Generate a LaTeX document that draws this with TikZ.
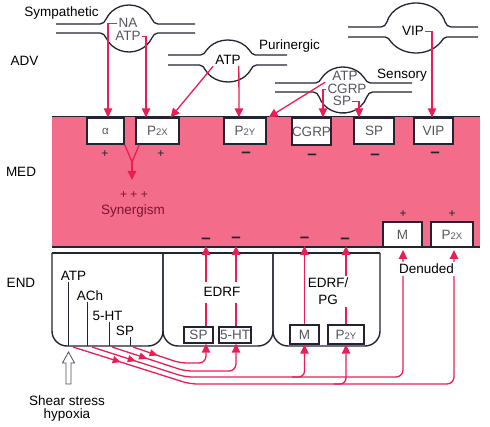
\documentclass[tikz,border=0pt]{standalone}
\usepackage{fontspec}
\setmainfont{Liberation Sans}
\usetikzlibrary{arrows.meta,decorations.markings}
\definecolor{pinkfill}{RGB}{243,108,138}
\definecolor{redc}{RGB}{234,30,84}
\definecolor{linec}{RGB}{35,35,50}
\definecolor{txtgray}{RGB}{85,85,95}
\definecolor{sync}{RGB}{125,20,55}
\newcommand{\rsub}[1]{{\fontsize{9.5}{10}\selectfont #1}}
% xl, xr, cx, yU, yL, top, bottom, x radius of the bulb
\newcommand{\nervepair}[8]{%
 \pgfmathsetmacro{\nvRy}{(#7-#6)/2}%
 \pgfmathsetmacro{\nvC}{(#7+#6)/2}%
 \pgfmathsetmacro{\nvAU}{180+asin((\nvC-#4+5)/\nvRy)}%
 \pgfmathsetmacro{\nvAL}{180-asin((#5+5-\nvC)/\nvRy)}%
 \pgfmathsetmacro{\nvK}{3/\nvRy}%
 \draw[nerve] (#1,#4) -- ({#3+#8*cos(\nvAU)-6},#4)
   .. controls ({#3+#8*cos(\nvAU)-3},#4) and ({#3+#8*cos(\nvAU)+\nvK*#8*sin(\nvAU)},{\nvC+\nvRy*sin(\nvAU)-\nvK*\nvRy*cos(\nvAU)})
   .. ({#3+#8*cos(\nvAU)},{\nvC+\nvRy*sin(\nvAU)})
   arc[start angle=\nvAU, end angle={540-\nvAU}, x radius=#8, y radius=\nvRy]
   .. controls ({#3-#8*cos(\nvAU)-\nvK*#8*sin(\nvAU)},{\nvC+\nvRy*sin(\nvAU)-\nvK*\nvRy*cos(\nvAU)}) and ({#3-#8*cos(\nvAU)+3},#4)
   .. ({#3-#8*cos(\nvAU)+6},#4) -- (#2,#4);
 \draw[nerve] (#1,#5) -- ({#3+#8*cos(\nvAL)-6},#5)
   .. controls ({#3+#8*cos(\nvAL)-3},#5) and ({#3+#8*cos(\nvAL)-\nvK*#8*sin(\nvAL)},{\nvC+\nvRy*sin(\nvAL)+\nvK*\nvRy*cos(\nvAL)})
   .. ({#3+#8*cos(\nvAL)},{\nvC+\nvRy*sin(\nvAL)})
   arc[start angle=\nvAL, end angle={180-\nvAL}, x radius=#8, y radius=\nvRy]
   .. controls ({#3-#8*cos(\nvAL)+\nvK*#8*sin(\nvAL)},{\nvC+\nvRy*sin(\nvAL)+\nvK*\nvRy*cos(\nvAL)}) and ({#3-#8*cos(\nvAL)+3},#5)
   .. ({#3-#8*cos(\nvAL)+6},#5) -- (#2,#5);
}
\begin{document}
\begin{tikzpicture}[x=1pt,y=-1pt,
  font=\fontsize{13.5}{16}\selectfont,
  every node/.style={inner sep=1pt},
  edge/.style={draw=linec,line width=1.4pt},
  nerve/.style={draw=linec,line width=1.3pt},
  rbox/.style={draw=linec,line width=1.3pt,fill=white,inner sep=0pt,text=txtgray},
  redln/.style={draw=redc,line width=1.3pt},
  redarr/.style={redln,-{Triangle[length=9pt,width=8.5pt]}},
  midarr/.style={postaction={decorate},decoration={markings,mark=at position #1 with {\arrow{Triangle[length=8pt,width=7pt,color=redc]}}}},
  minus/.style={anchor=base,inner sep=0pt,text=linec,font=\fontsize{17}{17}\selectfont\bfseries},
  plus/.style={anchor=base,inner sep=0pt,text=linec,font=\fontsize{12}{12}\selectfont},
  lbl/.style={anchor=base},
  glbl/.style={anchor=base,text=txtgray},
  thinl/.style={draw=linec,line width=0.6pt},
]
\useasboundingbox (0,0) rectangle (490,427);

% ---------- media (pink) ----------
\node[fill=pinkfill,minimum width=428,minimum height=130,inner sep=0pt] (med) at (266,182) {};
\draw[edge] (med.north west) -- (med.north east);
\draw[edge] (med.south west) -- (med.south east);

% layer labels
\node[lbl] (adv) at (24.5,66) {ADV};
\node[lbl] (medl) at (21,177) {MED};
\node[lbl] (endl) at (21,288) {END};

% receptor boxes in media
\node[rbox,minimum width=37,minimum height=26] (alpha) at (105.5,131) {{\fontsize{11.5}{12}\selectfont α}};
\node[rbox,minimum width=43,minimum height=26] (p2x) at (157.5,131) {P\rsub{2X}};
\node[rbox,minimum width=42,minimum height=26] (p2y) at (245,131) {P\rsub{2Y}};
\node[rbox,minimum width=39,minimum height=27] (cgrp) at (311.5,131.5) {CGRP};
\node[rbox,minimum width=40,minimum height=26] (sp) at (374,131) {SP};
\node[rbox,minimum width=39,minimum height=26] (vip) at (433.5,131) {VIP};
\node[rbox,minimum width=39,minimum height=25] (mden) at (402.5,234.5) {M};
\node[rbox,minimum width=42,minimum height=25] (p2xd) at (452,234.5) {P\rsub{2X}};

% signs in media
\node[plus] at (105,157.3) {+};
\node[plus] at (161,157.3) {+};
\node[minus] at (246,157.8) {–};
\node[minus] at (312,159.8) {–};
\node[minus] at (375,159.8) {–};
\node[minus] at (435,157.8) {–};
\node[plus] at (403,217.3) {+};
\node[plus] at (452,217.3) {+};
\node[minus] at (206,243.3) {–};
\node[minus] at (236,242.8) {–};
\node[minus] at (304.5,242.8) {–};
\node[minus] at (345,243.3) {–};

% synergism
\coordinate (yj) at (132,162);
\coordinate (ys) at (132,180);
\draw[redln] (alpha.south east) -- (yj);
\draw[redln] ([xshift=4pt]p2x.south west) -- (yj);
\draw[redarr] (yj) -- (ys);
\node[plus,text=sync] (ppp) at (134,198.3) {+ + +};
\node[lbl,text=sync] (syn) at (133,214.5) {Synergism};

% ---------- adventitia: nerve varicosities ----------
\nervepair{56}{195}{129}{24}{33}{5}{52}{25}
\nervepair{168}{287}{228}{55}{65}{40}{82}{25}
\nervepair{275}{412}{343}{83}{92}{67}{113}{25}
\nervepair{348}{478}{416}{27}{37}{3}{53}{30}

\node[lbl] (symp) at (61.5,17) {Sympathetic};
\node[lbl] (purin) at (289.5,50) {Purinergic};
\node[lbl] (sens) at (402,79) {Sensory};

\node[glbl] (na) at (128,28) {NA};
\node[glbl] (atpa) at (128,41) {ATP};
\node[lbl] (atpb) at (228,65) {ATP};
\node[glbl] (atpc) at (345,81) {ATP};
\node[glbl] (cgrpv) at (347,94) {CGRP};
\node[glbl] (spv) at (342,106) {SP};
\node[lbl] (vipv) at (413,36) {VIP};

\draw[redarr] (na.west) -| ([xshift=2.5pt]alpha.north);
\draw[redarr] (atpa.east) -| ([xshift=-11.5pt]p2x.north);
\draw[redarr] ([xshift=-1pt]atpb.south west) -- ([xshift=-9pt]p2x.north east);
\draw[redarr] ([xshift=-3pt]atpb.south east) -- ([xshift=-6pt]p2y.north);
\draw[redarr] ([xshift=-6pt]atpc.south west) -- ([xshift=2pt]p2y.north east);
\draw[redarr] (cgrpv.west) -| ([xshift=11.5pt]cgrp.north);
\draw[redarr] (spv.east) -| ([xshift=-15pt]sp.north);
\draw[redarr] (vipv.east) -| ([xshift=-1.5pt]vip.north);

% ---------- endothelium ----------
\draw[edge] (52,253) -- (380,253);
\draw[edge,rounded corners=15pt] (52,253) -- (52,346) -- (163,346) -- (163,253);
\draw[edge,rounded corners=15pt] (163,253) -- (163,346) -- (273,346) -- (273,253);
\draw[edge,rounded corners=15pt] (273,253) -- (273,346) -- (380,346) -- (380,253);

\node[rbox,minimum width=29,minimum height=16] (spc) at (198.5,335) {SP};
\node[rbox,minimum width=32,minimum height=16] (htc) at (235,335) {5-HT};
\node[rbox,minimum width=29,minimum height=19] (mc) at (304.5,334.5) {M};
\node[rbox,minimum width=36,minimum height=19] (p2yc) at (346,334.5) {P\rsub{2Y}};

% tips at the lower border of the media
\coordinate (u1) at (206,246);
\coordinate (u2) at (236,246);
\coordinate (u3) at (304.5,246);
\coordinate (u4) at (346,246);
\draw[redarr] ([xshift=7.5pt]spc.north) -- (u1);
\draw[redarr] ([xshift=1pt]htc.north) -- (u2);
\draw[redarr] (mc.north) -- (u3);
\draw[redarr] (p2yc.north) -- (u4);

\node[lbl,fill=white,inner xsep=2pt,inner ysep=6pt] (edrf1) at (222,297) {EDRF};
\node[fill=white,align=center,inner sep=2pt,font=\fontsize{13.5}{17}\selectfont] (edrf2) at (328,291.5) {EDRF/\\PG};

% cell 1 transmitters
\coordinate (cb) at (0,346);
\node[lbl] (catp) at (73.5,281) {ATP};
\node[lbl] (cach) at (90,301) {ACh};
\node[lbl] (cht) at (107.5,321) {5-HT};
\node[lbl] (csp) at (125,336) {SP};
\draw[thinl] ([xshift=-5.5pt]catp.south) -- ([xshift=-5.5pt]catp.south |- cb);
\draw[thinl] ([xshift=-3pt]cach.south) -- ([xshift=-3pt]cach.south |- cb);
\draw[thinl] ([xshift=1.5pt]cht.south) -- ([xshift=1.5pt]cht.south |- cb);
\draw[thinl] ([xshift=5pt]csp.south) -- ([xshift=5pt]csp.south |- cb);

% release pathways
\coordinate (r1) at (133,347);
\coordinate (r2) at (112,347);
\coordinate (r3) at (92,347);
\coordinate (r4) at (73,347);
\coordinate (dm) at (403,250);
\coordinate (dp) at (454,250);
\draw[redarr,rounded corners=7pt,midarr=26pt] (r1) -- (180,363) -- (206,363) -- ([xshift=7.5pt]spc.south);
\draw[redarr,rounded corners=7pt,midarr=37pt] (r2) -- (185,371) -- (236,371) -- ([xshift=1pt]htc.south);
\draw[redarr,rounded corners=7pt,midarr=46pt] (r3) -- (185,377) -- (403,377) -- (dm);
\draw[redarr,rounded corners=7pt,midarr=50pt] (r4) -- (190,384) -- (454,384) -- (dp);
\draw[redarr,rounded corners=6pt] (292,377) -- (304.5,377) -- (mc.south);
\draw[redarr,rounded corners=6pt] (334,384) -- (346,384) -- (p2yc.south);

\node[lbl,fill=white,inner xsep=2.5pt,inner ysep=2pt] (den) at (426.5,274) {Denuded};

% shear stress
\draw[line width=0.8pt,draw=linec!80,fill=white] (66,384) -- (66,363) -- (62.5,363) -- (68.5,352) -- (74.5,363) -- (71,363) -- (71,384) -- cycle;
\node[align=center,font=\fontsize{13.5}{13}\selectfont] (shear) at (67,409) {Shear stress\\hypoxia};
\end{tikzpicture}
\end{document}
